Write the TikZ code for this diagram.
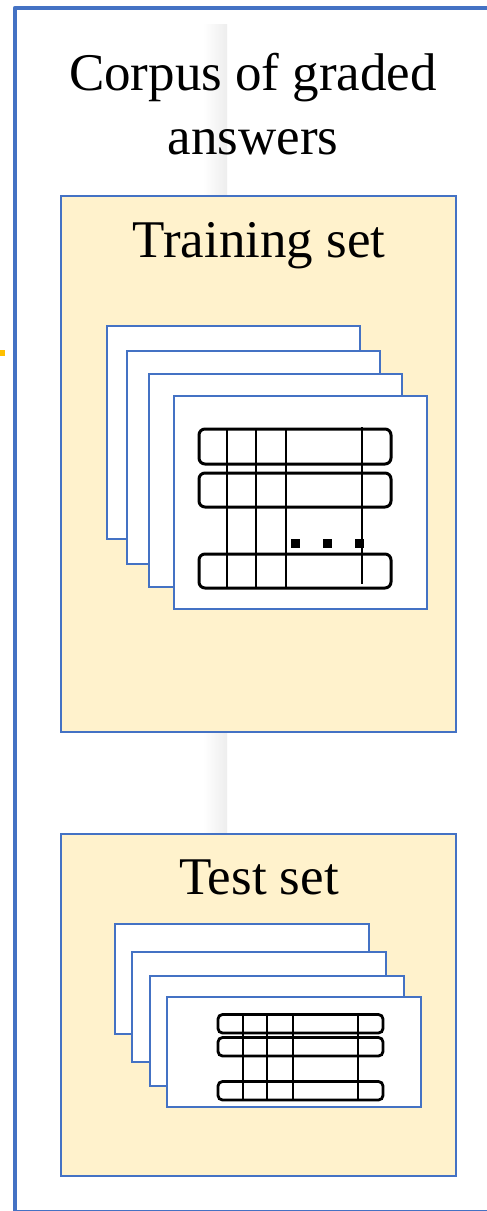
\documentclass[tikz,border=0pt]{standalone}
\usepackage{fontspec}
\setmainfont{Liberation Serif}
\definecolor{frameblue}{HTML}{4472C4}
\definecolor{setfill}{HTML}{FFF2CC}
\definecolor{tickorange}{HTML}{FFC000}
\tikzset{
  outerframe/.style={draw=frameblue, line width=4.5pt, line join=round},
  setbox/.style={draw=frameblue, fill=setfill, line width=2pt, inner sep=0pt, outer sep=0pt, anchor=north west},
  sheet/.style={draw=frameblue, fill=white, line width=2pt, inner sep=0pt, outer sep=0pt, anchor=north west},
  bigsheet/.style={sheet, minimum width=253pt, minimum height=213pt},
  smallsheet/.style={sheet, minimum width=254pt, minimum height=110pt},
  rowbig/.style={draw=black, line width=3pt, rounded corners=6pt},
  rowsmall/.style={draw=black, line width=2.8pt, rounded corners=4.5pt},
  colline/.style={draw=black, line width=1.5pt},
  dotsq/.style={fill=black},
  label/.style={font=\fontsize{53}{64}\selectfont, anchor=base, inner sep=0pt}
}
\begin{document}
\begin{tikzpicture}[x=1pt, y=-1pt]
\useasboundingbox (0,0) rectangle (487,1211);
\fill[white] (0,0) rectangle (487,1211);
% outer frame
\draw[outerframe] (15,8) rectangle (492,1212);
% faint shadow strip
\shade[left color=white, right color=black!7] (203,24) rectangle (227,834);
% orange tick
\fill[tickorange] (0,350) rectangle (5,356);
% title
\node[label] (title1) at (253,90) {Corpus of graded};
\node[label] (title2) at (253,154) {answers};
% training set
\node[setbox, minimum width=395pt, minimum height=536pt] (train) at (61,196) {};
\node[label] (trainlabel) at (259,257) {Training set};
\node[bigsheet] (ts1) at (107,326) {};
\node[bigsheet] (ts2) at (127,351) {};
\node[bigsheet] (ts3) at (149,374) {};
\node[bigsheet] (ts4) at (174,396) {};
\draw[rowbig] (199,429) rectangle (391,464);
\draw[rowbig] (199,473) rectangle (391,507);
\draw[rowbig] (199,554) rectangle (391,588);
\draw[colline] (227,430) -- (227,588);
\draw[colline] (256,430) -- (256,588);
\draw[colline] (286,430) -- (286,588);
\draw[colline] (362,427) -- (362,584);
\fill[dotsq] (290.5,538.5) rectangle (299.5,547.5);
\fill[dotsq] (322.5,538.5) rectangle (331.5,547.5);
\fill[dotsq] (354.5,538.5) rectangle (363.5,547.5);
% test set
\node[setbox, minimum width=395pt, minimum height=342pt] (test) at (61,834) {};
\node[label] (testlabel) at (259,894) {Test set};
\node[smallsheet] (es1) at (115,924) {};
\node[smallsheet] (es2) at (132,952) {};
\node[smallsheet] (es3) at (150,976) {};
\node[smallsheet] (es4) at (167,997) {};
\draw[rowsmall] (218,1014.5) rectangle (383,1033);
\draw[rowsmall] (218,1037.5) rectangle (383,1056);
\draw[rowsmall] (218,1081.5) rectangle (383,1100);
\draw[colline] (243,1014.5) -- (243,1100);
\draw[colline] (267,1014.5) -- (267,1100);
\draw[colline] (293,1014.5) -- (293,1100);
\draw[colline] (358,1014.5) -- (358,1100);
\end{tikzpicture}
\end{document}
